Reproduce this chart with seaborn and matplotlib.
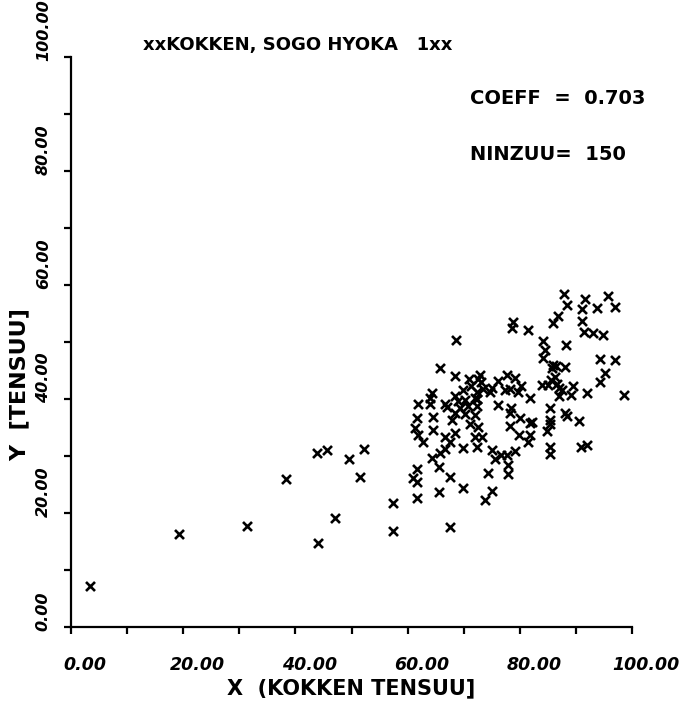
import matplotlib
matplotlib.use("Agg")
import matplotlib.pyplot as plt
import matplotlib.transforms as mtransforms
import seaborn as sns
import pandas as pd

# KOKKEN score (x) and SOGO HYOKA score (y) for each student
kokken = [
    3.3, 19.3, 31.4, 38.3, 43.8, 45.6, 44.1, 47.0, 49.6, 52.2, 51.6, 57.4, 57.4,
    61.6, 61.3, 61.9, 62.8, 64.6, 64.6, 67.9, 68.4, 66.7, 67.6, 66.7, 65.8, 69.9,
    71.1, 72.6, 72.0, 73.2, 72.3, 72.0, 64.3, 65.6, 61.6, 61.0, 61.6, 67.6, 74.4,
    61.6, 65.6, 69.8, 73.8, 75.0, 67.6,
    75.1, 75.5, 76.7, 77.8, 77.9, 77.9,
    68.6, 65.8, 68.4, 72.9, 72.6, 77.7, 76.2, 64.3, 61.9, 64.0, 66.7, 68.4, 69.8,
    71.3, 72.3, 73.4, 74.7, 77.4, 76.2, 72.0, 70.2, 69.3, 70.8, 72.3,
    87.9, 91.6, 95.8, 88.4, 91.0, 93.8, 97.0, 86.8, 86.0, 91.0, 91.4, 93.1, 94.9,
    78.8, 78.6, 81.4, 84.2, 88.2, 84.5, 84.2, 86.0, 86.5, 88.1, 94.3, 97.0, 95.1,
    94.3,
    79.1, 83.9, 85.6, 86.6, 86.9, 85.1, 89.5, 89.2, 91.9, 98.6, 86.9, 79.6, 78.2,
    81.8, 85.4, 88.1, 78.5, 78.3, 80.0, 78.3, 81.8, 90.6, 85.4, 84.8, 79.8, 81.9,
    81.4, 79.1, 85.3, 85.4, 90.9, 91.9,
    68.5, 70.2, 72.4, 75.0, 64.0, 69.0, 73.0, 86.2, 85.8, 82.1, 85.4, 88.4, 67.0,
    71.0, 87.5, 80.3,
]
sogo = [
    7.2, 16.4, 17.8, 26.0, 30.5, 31.1, 14.8, 19.1, 29.5, 31.2, 26.4, 21.7, 16.9,
    36.6, 34.9, 33.7, 32.5, 36.9, 34.6, 36.3, 34.0, 33.4, 32.5, 31.2, 30.5, 31.4,
    35.6, 35.1, 33.4, 33.4, 31.6, 37.2, 29.7, 28.0, 27.7, 26.1, 25.5, 26.4, 27.0,
    22.7, 23.7, 24.4, 22.2, 23.9, 17.5,
    31.0, 29.5, 30.2, 30.2, 28.5, 26.9,
    50.4, 45.5, 44.1, 44.2, 43.5, 44.2, 43.2, 41.0, 39.2, 39.2, 39.2, 40.6, 41.6,
    42.2, 41.2, 41.8, 41.3, 41.6, 38.9, 40.2, 39.8, 38.4, 38.8, 38.8,
    58.4, 57.5, 58.1, 56.5, 55.8, 55.9, 56.2, 54.6, 53.4, 53.6, 51.7, 51.5, 51.3,
    53.5, 52.4, 52.1, 50.1, 49.5, 48.6, 47.2, 46.0, 45.8, 45.6, 47.0, 46.8, 44.5,
    43.0,
    43.6, 42.4, 43.3, 42.6, 41.9, 42.5, 42.3, 40.7, 41.0, 40.7, 40.5, 41.3, 41.7,
    40.2, 38.4, 37.6, 38.4, 37.5, 36.6, 35.3, 35.8, 36.2, 35.6, 34.4, 33.7, 33.6,
    32.4, 30.8, 31.6, 30.3, 31.5, 31.9,
    37.6, 37.3, 40.0, 41.9, 40.2, 39.6, 43.0, 43.8, 45.4, 36.0, 36.4, 37.0, 38.6,
    43.5, 41.5, 42.2,
]

x_ticks = [0, 10, 20, 30, 40, 50, 60, 70, 80, 90, 100]
tick_labels = ["0.00", "", "20.00", "", "40.00", "", "60.00", "", "80.00", "", "100.00"]

title_text = "xxKOKKEN, SOGO HYOKA   1xx"
coeff_text = "COEFF  =  0.703"
ninzuu_text = "NINZUU=  150"
x_label = "X  (KOKKEN TENSUU]"
y_label = "Y  [TENSUU]"

df = pd.DataFrame({"x": kokken, "y": sogo})

sns.set_theme(style="ticks")
plt.rcParams["font.family"] = ["DejaVu Sans"]

W, H = 694, 702
fig = plt.figure(figsize=(W / 100, H / 100), dpi=100)
ax = fig.add_axes([71 / W, 1 - 627 / H, (632 - 71) / W, (627 - 57) / H])

sns.scatterplot(data=df, x="x", y="y", marker="x", color="black",
                s=42, linewidth=1.9, ax=ax, legend=False)

ax.set_xlim(0, 100)
ax.set_ylim(0, 100)
ax.set_xticks(x_ticks)
ax.set_yticks(x_ticks)

for side in ("top", "right"):
    ax.spines[side].set_visible(False)
for side in ("left", "bottom"):
    ax.spines[side].set_linewidth(1.6)
    ax.spines[side].set_color("black")
ax.tick_params(axis="both", direction="out", length=5, width=1.6, color="black")

tick_font = dict(fontweight="bold", fontstyle="italic", color="black")
ax.set_xticklabels(tick_labels, fontsize=12.5, **tick_font)
ax.set_yticklabels(tick_labels, rotation=90, va="bottom", ha="center",
                   fontsize=11.5, **tick_font)
ax.tick_params(axis="x", pad=16)
ax.tick_params(axis="y", pad=12)

# plotter-style label placement: x labels shifted right, y labels sit above their tick
dx = mtransforms.ScaledTranslation(14 / 100, 0, fig.dpi_scale_trans)
for lab in ax.get_xticklabels():
    lab.set_transform(lab.get_transform() + dx)
dy = mtransforms.ScaledTranslation(-4 / 100, -4 / 100, fig.dpi_scale_trans)
for lab in ax.get_yticklabels():
    lab.set_transform(lab.get_transform() + dy)

ax.set_xlabel("")
ax.set_ylabel("")
fig.text(351 / W, 1 - 688 / H, x_label, ha="center", va="center",
         fontsize=15, fontweight="bold", color="black")
fig.text(20 / W, 1 - 385 / H, y_label, ha="center", va="center", rotation=90,
         fontsize=16, fontweight="bold", color="black")

fig.text(143 / W, 1 - 45 / H, title_text, ha="left", va="center",
         fontsize=13, fontweight="bold", color="black")
fig.text(470 / W, 1 - 98 / H, coeff_text, ha="left", va="center",
         fontsize=14, fontweight="bold", color="black")
fig.text(470 / W, 1 - 155 / H, ninzuu_text, ha="left", va="center",
         fontsize=14, fontweight="bold", color="black")

fig.savefig("out.png", dpi=100, facecolor="white")
